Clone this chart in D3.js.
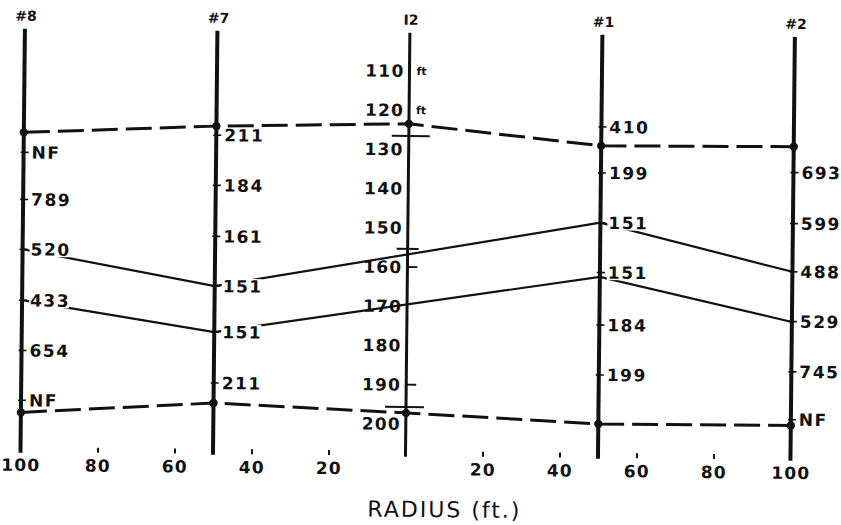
<!DOCTYPE html>
<html>
<head>
<meta charset="utf-8">
<script src="https://cdn.jsdelivr.net/npm/d3@7"></script>
<style>
  html, body { margin: 0; padding: 0; background: #fff; }
  svg { display: block; }
  text { font-family: "DejaVu Sans", "Liberation Sans", sans-serif; fill: #111; }
</style>
</head>
<body>
<svg id="chart" width="841" height="525"></svg>
<script>
// Wells along the section and their radial distance from I2 (ft)
const wellNames  = ["#8", "#7", "I2", "#1", "#2"];
const wellRadius = [-100, -50, 0, 50, 100];

// Radius axis ticks (ft, shown as absolute distance)
const radiusTicks = [-100, -80, -60, -40, -20, 20, 40, 60, 80, 100];

// Depth scale printed along well I2 (ft)
const depthLabels     = [110, 120, 130, 140, 150, 160, 170, 180, 190, 200];
const depthUnitLabels = [110, 120];
const depthTickMarks  = [160, 190];
const screenMarks     = [126.6, 155.4, 195.7];

// Readings logged at each observation well and the depth they refer to
const readings8      = ["NF", "789", "520", "433", "654", "NF"];
const readingDepths8 = [131.8, 143.8, 156.5, 169.5, 182.3, 195.0];
const readings7      = ["211", "184", "161", "151", "151", "211"];
const readingDepths7 = [126.9, 139.7, 152.7, 165.4, 177.1, 190.1];
const readings1      = ["410", "199", "151", "151", "184", "199"];
const readingDepths1 = [123.8, 135.5, 148.2, 160.9, 174.3, 187.0];
const readings2      = ["693", "599", "488", "529", "745", "NF"];
const readingDepths2 = [134.9, 147.9, 160.2, 172.9, 185.7, 197.9];

// Top and base boundaries (dashed), depth at each of the five wells
const topBoundary  = [126.7, 124.6, 123.5, 128.6, 128.3];
const baseBoundary = [198.1, 195.2, 197.2, 199.5, 199.4];

// Correlated layers (solid) through the four observation wells
const layerRadius = [-100, -50, 50, 100];
const upperLayer  = [156.5, 165.4, 148.2, 160.2];
const lowerLayer  = [169.5, 177.1, 162.0, 173.0];

// Well casing extent (ft)
const wellTop = 100.3, wellBottom = 208.4;

const svg = d3.select("#chart");
const x = d3.scaleLinear().domain([-100, 100]).range([22.5, 792.5]);
const y = d3.scaleLinear().domain([110, 200]).range([71, 424]);

// the drafted sheet sits slightly skewed
const g = svg.append("g").attr("transform", "rotate(0.6 420 262)");

// well columns
g.append("g").selectAll("line").data(wellRadius).join("line")
  .attr("x1", d => x(d)).attr("x2", d => x(d))
  .attr("y1", y(wellTop)).attr("y2", y(wellBottom))
  .attr("stroke", "#111").attr("stroke-width", (d, i) => i === 2 ? 3 : 4);

// well names
g.append("g").selectAll("text").data(wellNames).join("text")
  .attr("x", (d, i) => x(wellRadius[i]) + 1)
  .attr("y", 25)
  .attr("text-anchor", "middle")
  .attr("font-size", 14).attr("font-weight", "bold")
  .text(d => d);

// boundaries
const line = d3.line().x(d => x(d[0])).y(d => y(d[1]));
[topBoundary, baseBoundary].forEach(b => {
  g.append("path")
    .attr("d", line(wellRadius.map((r, i) => [r, b[i]])))
    .attr("fill", "none").attr("stroke", "#111")
    .attr("stroke-width", 3).attr("stroke-dasharray", "26 8");
});

// layers
[upperLayer, lowerLayer].forEach(l => {
  g.append("path")
    .attr("d", line(layerRadius.map((r, i) => [r, l[i]])))
    .attr("fill", "none").attr("stroke", "#111").attr("stroke-width", 2.2);
});

// screened-interval bars on I2
const markWidths = [[-17, 21], [-11, 11], [-21, 18]];
g.append("g").selectAll("line").data(screenMarks).join("line")
  .attr("x1", (d, i) => x(0) + markWidths[i][0])
  .attr("x2", (d, i) => x(0) + markWidths[i][1])
  .attr("y1", d => y(d)).attr("y2", d => y(d))
  .attr("stroke", "#111").attr("stroke-width", 2);

// depth scale on I2
const depthG = g.append("g");
depthG.selectAll("text.depth").data(depthLabels).join("text")
  .attr("class", "depth")
  .attr("x", x(0) - 5).attr("y", d => y(d)).attr("dy", "0.36em")
  .attr("text-anchor", "end")
  .attr("font-size", 17).attr("font-weight", "bold").attr("letter-spacing", 1.2)
  .text(d => d);
depthG.selectAll("text.unit").data(depthUnitLabels).join("text")
  .attr("class", "unit")
  .attr("x", x(0) + 7).attr("y", d => y(d)).attr("dy", "0.36em")
  .attr("font-size", 11).attr("font-weight", "bold")
  .text("ft");
depthG.selectAll("line").data(depthTickMarks).join("line")
  .attr("x1", x(0)).attr("x2", x(0) + 10)
  .attr("y1", d => y(d)).attr("y2", d => y(d))
  .attr("stroke", "#111").attr("stroke-width", 1.8);

// readings at wells
const wellReadings = [
  { r: -100, labels: readings8, depths: readingDepths8 },
  { r: -50,  labels: readings7, depths: readingDepths7 },
  { r: 50,   labels: readings1, depths: readingDepths1 },
  { r: 100,  labels: readings2, depths: readingDepths2 }
];
wellReadings.forEach(w => {
  const rows = w.labels.map((t, i) => ({ t, d: w.depths[i] }));
  const wg = g.append("g");
  wg.selectAll("line").data(rows).join("line")
    .attr("x1", x(w.r) - 3).attr("x2", x(w.r) + 5)
    .attr("y1", d => y(d.d)).attr("y2", d => y(d.d))
    .attr("stroke", "#111").attr("stroke-width", 1.6);
  const items = wg.selectAll("g.lab").data(rows).join("g").attr("class", "lab");
  const rects = items.append("rect").attr("fill", "#fff");
  const texts = items.append("text")
    .attr("x", x(w.r) + 8).attr("y", d => y(d.d)).attr("dy", "0.36em")
    .attr("font-size", 17).attr("font-weight", "bold").attr("letter-spacing", 1.5)
    .text(d => d.t);
  texts.each(function(d, i) {
    const bb = this.getBBox();
    d3.select(rects.nodes()[i])
      .attr("x", bb.x - 1).attr("width", bb.width)
      .attr("y", y(d.d) - 7.5).attr("height", 15);
  });
});

// boundary picks
[topBoundary, baseBoundary].forEach(b => {
  g.append("g").selectAll("circle").data(wellRadius).join("circle")
    .attr("cx", d => x(d)).attr("cy", (d, i) => y(b[i])).attr("r", 4.2)
    .attr("fill", "#111");
});

// radius axis
const axis = d3.axisBottom(x).tickValues(radiusTicks)
  .tickFormat(d => Math.abs(d)).tickSize(5).tickPadding(7);
const ax = g.append("g").attr("transform", "translate(0,451)").call(axis);
ax.select(".domain").remove();
ax.selectAll(".tick line").attr("stroke", "#111").attr("stroke-width", 2);
ax.selectAll(".tick text")
  .attr("font-family", "DejaVu Sans, sans-serif")
  .attr("font-size", 17).attr("font-weight", "bold").attr("letter-spacing", 1.2)
  .attr("fill", "#111");

g.append("text")
  .attr("x", 447).attr("y", 517)
  .attr("text-anchor", "middle")
  .attr("font-size", 22).attr("letter-spacing", 2)
  .text("RADIUS (ft.)");
</script>
</body>
</html>
